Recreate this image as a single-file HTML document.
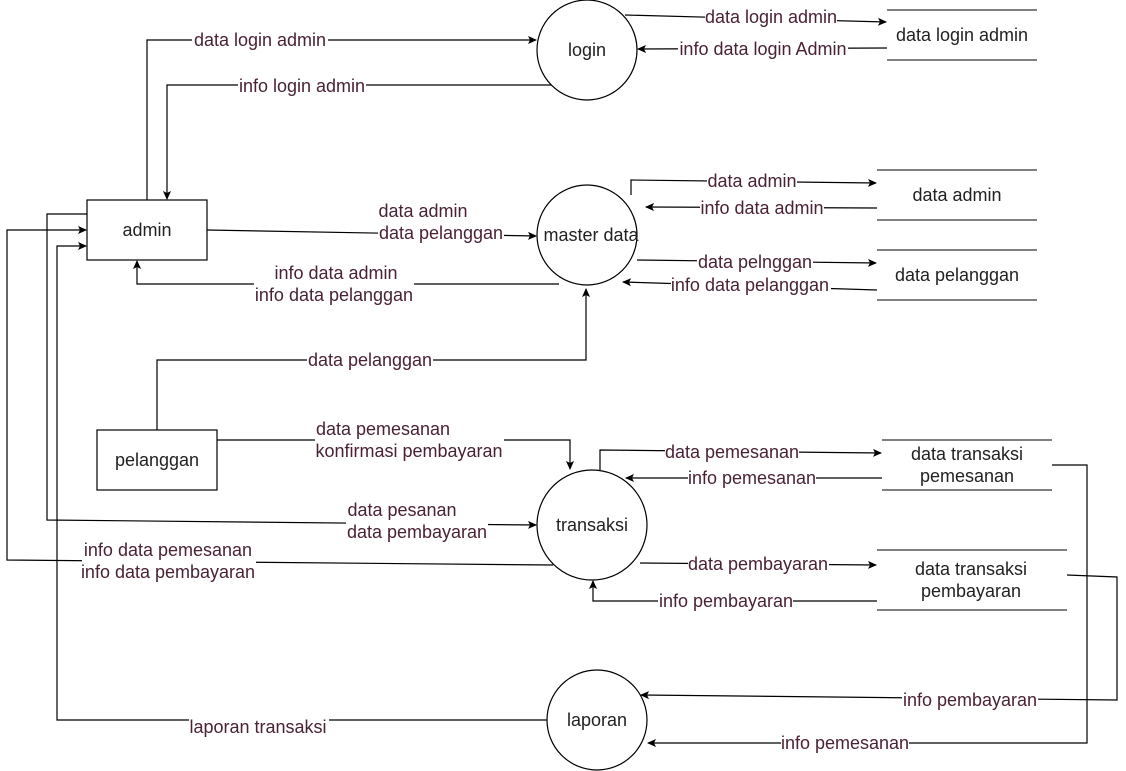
<!DOCTYPE html>
<html><head><meta charset="utf-8"><style>
body{margin:0;background:#fff}
svg{display:block}
text{font-family:"Liberation Sans",Arial,sans-serif;font-size:18px}
.l{fill:#4a2236;text-anchor:middle}
.n{fill:#222;text-anchor:middle}
.bg{fill:#fff}
</style></head><body>
<svg width="1126" height="771" viewBox="0 0 1126 771" xmlns="http://www.w3.org/2000/svg">
<defs><marker id="a" markerWidth="10" markerHeight="10" refX="8" refY="4" orient="auto" markerUnits="userSpaceOnUse"><path d="M0,0 L9,4 L0,8 L2,4 z" fill="#000"/></marker></defs>
<g fill="none" stroke="#000" stroke-width="1.2" marker-end="url(#a)">
<polyline points="147,200 147,40 536,40"/>
<polyline points="552,85 167,85 167,199"/>
<polyline points="625,15 886,22"/>
<polyline points="887,48 638,49"/>
<polyline points="207,230 536,236"/>
<polyline points="559,284 137,284 137,261"/>
<polyline points="631,195 631,180 876,183"/>
<polyline points="877,208 646,207"/>
<polyline points="637,260 876,263"/>
<polyline points="877,290 623,282"/>
<polyline points="157,430 157,360 586,360 586,289"/>
<polyline points="217,440 570,440 570,469"/>
<polyline points="87,214 47,214 47,520 536,525"/>
<polyline points="553,565 7,560 7,230 86,230"/>
<polyline points="600,470 600,450 881,453"/>
<polyline points="882,478 626,478"/>
<polyline points="640,563 876,565"/>
<polyline points="877,601 593,601 593,581"/>
<polyline points="1052,465 1087,465 1087,743 648,743"/>
<polyline points="1067,575 1117,577 1117,700 641,695"/>
<polyline points="547,720 57,720 57,246 86,246"/>
</g>
<g fill="#fff" stroke="#000" stroke-width="1.2">
<circle cx="587" cy="50" r="50"/>
<circle cx="587" cy="235" r="50"/>
<circle cx="592" cy="525" r="55"/>
<circle cx="597" cy="720" r="50"/>
<rect x="87" y="200" width="120" height="60"/>
<rect x="97" y="430" width="120" height="60"/>
</g>
<g stroke="#000" stroke-width="1">
<line x1="887" y1="10" x2="1037" y2="10"/><line x1="887" y1="60" x2="1037" y2="60"/>
<line x1="877" y1="170" x2="1037" y2="170"/><line x1="877" y1="220" x2="1037" y2="220"/>
<line x1="877" y1="250" x2="1037" y2="250"/><line x1="877" y1="300" x2="1037" y2="300"/>
<line x1="882" y1="440" x2="1052" y2="440"/><line x1="882" y1="490" x2="1052" y2="490"/>
<line x1="877" y1="550" x2="1067" y2="550"/><line x1="877" y1="610" x2="1067" y2="610"/>
</g>
<g class="n">
<text x="587" y="56">login</text>
<text x="591" y="241">master data</text>
<text x="592" y="531">transaksi</text>
<text x="597" y="726">laporan</text>
<text x="147" y="236">admin</text>
<text x="157" y="466">pelanggan</text>
<text x="962" y="41">data login admin</text>
<text x="957" y="201">data admin</text>
<text x="957" y="281">data pelanggan</text>
<text x="967" y="460">data transaksi</text><text x="967" y="482">pemesanan</text>
<text x="971" y="575">data transaksi</text><text x="971" y="597">pembayaran</text>
</g>
<g class="bg">
<rect x="192" y="31" width="136" height="18"/>
<rect x="238" y="77" width="128" height="18"/>
<rect x="705" y="8" width="132" height="18"/>
<rect x="678" y="40" width="170" height="18"/>
<rect x="378" y="202" width="126" height="40"/>
<rect x="254" y="264" width="160" height="40"/>
<rect x="707" y="172" width="90" height="18"/>
<rect x="700" y="199" width="124" height="18"/>
<rect x="697" y="253" width="116" height="18"/>
<rect x="671" y="276" width="160" height="18"/>
<rect x="307" y="351" width="126" height="18"/>
<rect x="315" y="420" width="189" height="40"/>
<rect x="346" y="501" width="142" height="40"/>
<rect x="82" y="541" width="174" height="40"/>
<rect x="665" y="443" width="134" height="18"/>
<rect x="688" y="469" width="128" height="18"/>
<rect x="688" y="555" width="141" height="18"/>
<rect x="658" y="592" width="135" height="18"/>
<rect x="781" y="734" width="128" height="18"/>
<rect x="902" y="691" width="136" height="18"/>
<rect x="189" y="718" width="140" height="18"/>
</g>
<g class="l">
<text x="260" y="46">data login admin</text>
<text x="302" y="92">info login admin</text>
<text x="771" y="23">data login admin</text>
<text x="763" y="55">info data login Admin</text>
<text x="423" y="217">data admin</text><text x="441" y="239">data pelanggan</text>
<text x="336" y="279">info data admin</text><text x="334" y="301">info data pelanggan</text>
<text x="752" y="187">data admin</text>
<text x="762" y="214">info data admin</text>
<text x="755" y="268">data pelnggan</text>
<text x="750" y="291">info data pelanggan</text>
<text x="370" y="366">data pelanggan</text>
<text x="383" y="435">data pemesanan</text><text x="409" y="457">konfirmasi pembayaran</text>
<text x="402" y="516">data pesanan</text><text x="417" y="538">data pembayaran</text>
<text x="168" y="556">info data pemesanan</text><text x="168" y="578">info data pembayaran</text>
<text x="732" y="458">data pemesanan</text>
<text x="752" y="484">info pemesanan</text>
<text x="758" y="570">data pembayaran</text>
<text x="726" y="607">info pembayaran</text>
<text x="845" y="749">info pemesanan</text>
<text x="970" y="706">info pembayaran</text>
<text x="258" y="733">laporan transaksi</text>
</g>
</svg>
</body></html>
